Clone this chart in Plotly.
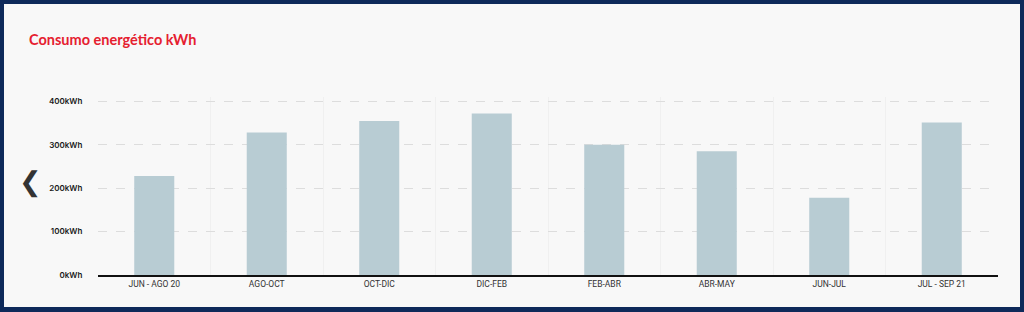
import plotly.graph_objects as go

categories = ["JUN - AGO 20", "AGO-OCT", "OCT-DIC", "DIC-FEB", "FEB-ABR", "ABR-MAY", "JUN-JUL", "JUL - SEP 21"]
consumo_kwh = [228, 328, 355, 372, 300, 285, 178, 351]
y_ticks = [0, 100, 200, 300, 400]
y_tick_labels = ["0kWh", "100kWh", "200kWh", "300kWh", "400kWh"]

W, H = 1024, 312
L, R, T, B = 98, 26, 97, 37
pw, ph = W - L - R, H - T - B

def px_x(x):
    return (x - L) / pw

def px_y(y):
    return (H - B - y) / ph

fig = go.Figure()
fig.add_trace(go.Bar(
    x=categories, y=consumo_kwh,
    marker=dict(color="#b8ccd3", line=dict(width=0)),
    width=0.356,
    hoverinfo="x+y",
))

fig.update_layout(
    width=W, height=H,
    margin=dict(l=L, r=R, t=T, b=B),
    paper_bgcolor="#0e2a5a",
    plot_bgcolor="rgba(0,0,0,0)",
    showlegend=False,
    title=dict(
        text="<b>Consumo energético kWh</b>",
        font=dict(family="Lato", size=14.5, color="#e5202f"),
        x=29 / W, xref="container", xanchor="left",
        y=1 - 40 / H, yref="container", yanchor="middle",
    ),
    xaxis=dict(
        type="category",
        showline=True, linecolor="#111111", linewidth=2,
        showgrid=True, gridcolor="#f0f0f0", gridwidth=1,
        tickson="boundaries",
        ticks="outside", ticklen=7, tickcolor="rgba(0,0,0,0)",
        tickfont=dict(family="Roboto", size=8.5, color="#333333"),
        range=[-0.5, len(categories) - 0.5],
        fixedrange=True,
    ),
    yaxis=dict(
        range=[0, 410],
        tickvals=y_ticks, ticktext=y_tick_labels,
        showgrid=True, gridcolor="#dddddd", gridwidth=1, griddash="dash",
        zeroline=False, showline=False,
        ticks="outside", ticklen=13, tickcolor="rgba(0,0,0,0)",
        tickfont=dict(family="Inter", size=8, color="#1a1a1a", weight=600),
        fixedrange=True,
    ),
    shapes=[dict(
        type="rect", xref="paper", yref="paper", layer="below",
        x0=px_x(4), x1=px_x(1020), y0=px_y(307), y1=px_y(4),
        fillcolor="#f8f8f8", line=dict(width=0),
    )],
    annotations=[dict(
        text="<b>❮</b>", xref="paper", yref="paper",
        x=px_x(30), y=px_y(182), xanchor="center", yanchor="middle",
        showarrow=False, font=dict(family="DejaVu Sans", size=27, color="#333333"),
    )],
)

fig.write_html("out.html")
